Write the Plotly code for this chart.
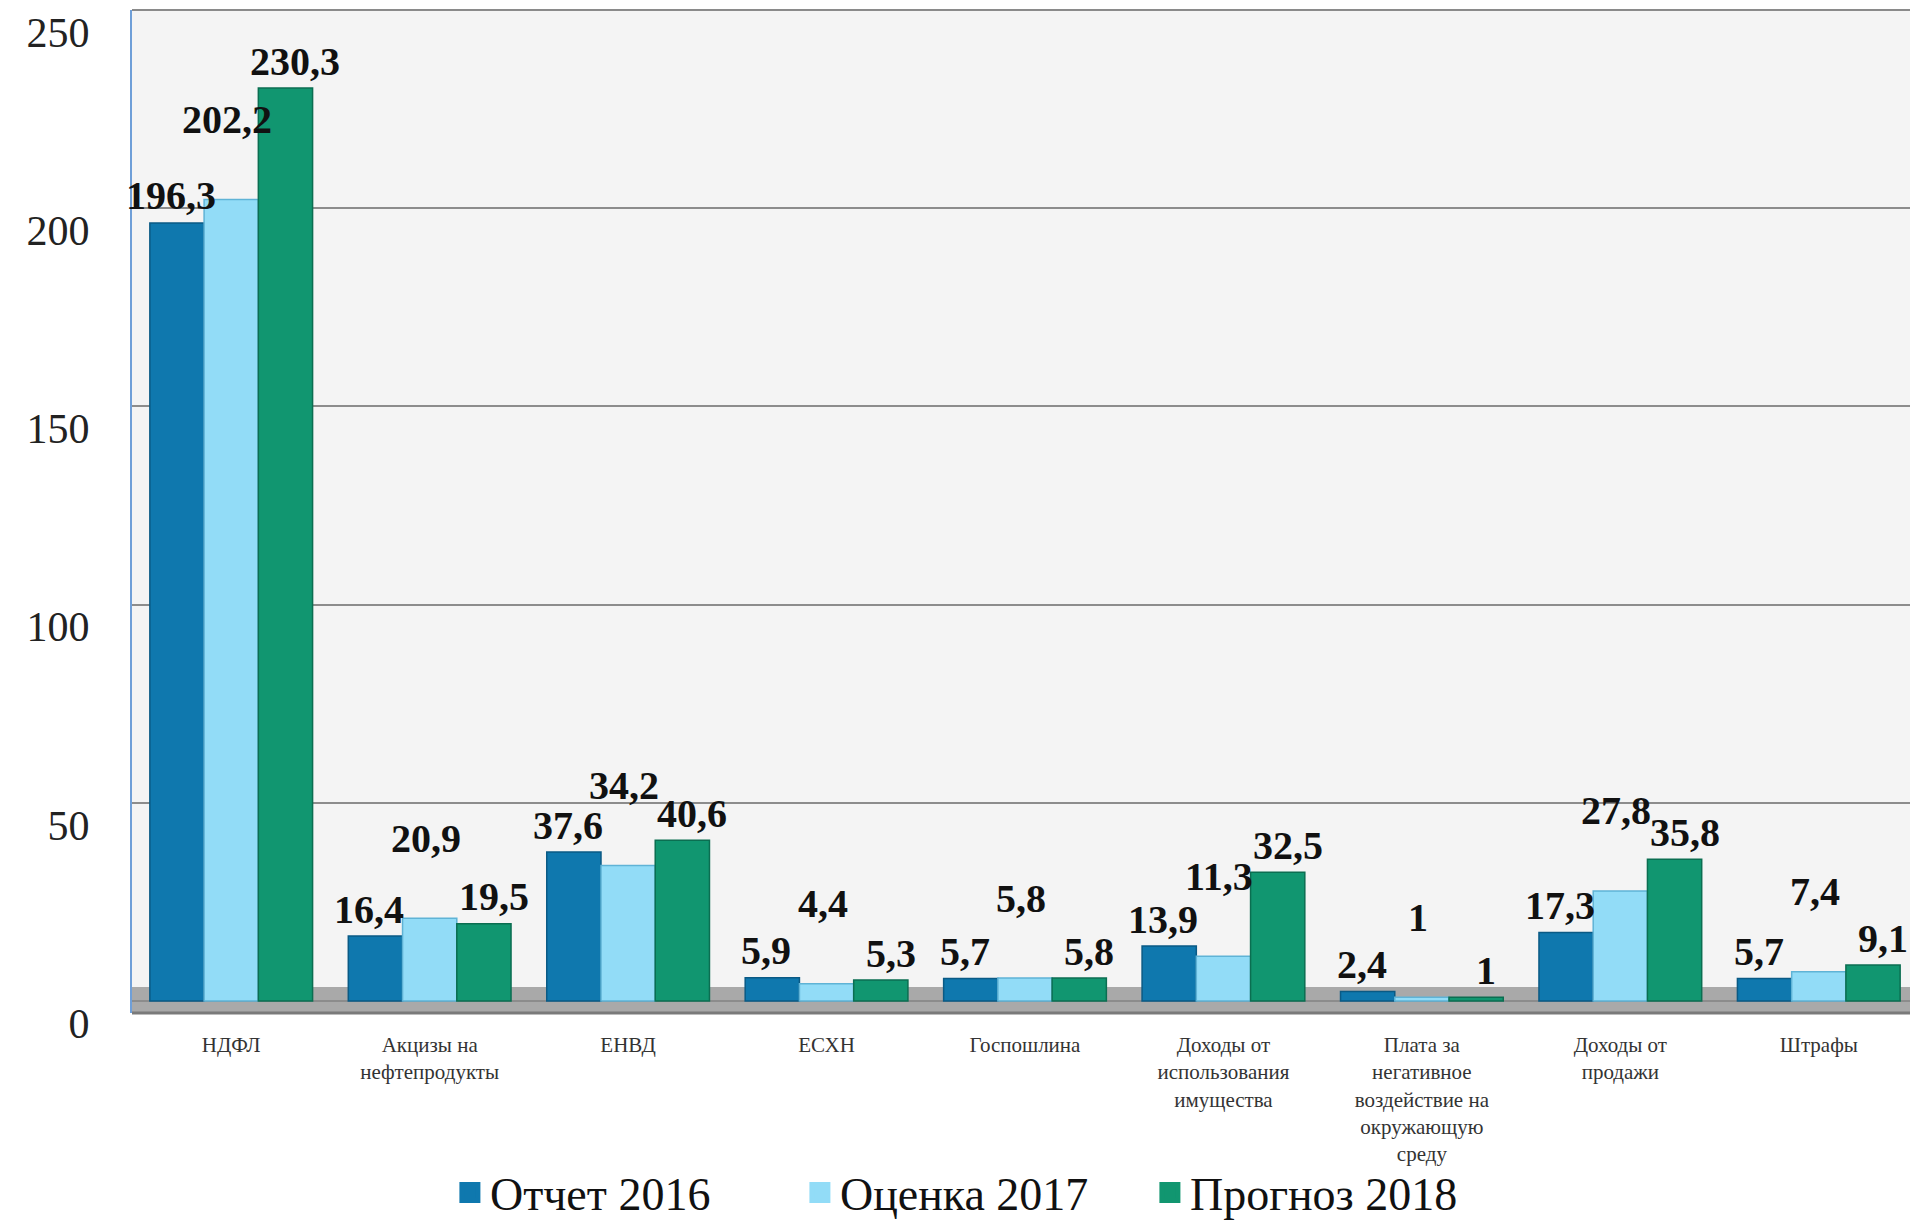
import plotly.graph_objects as go

categories = [
    "НДФЛ",
    "Акцизы на<br>нефтепродукты",
    "ЕНВД",
    "ЕСХН",
    "Госпошлина",
    "Доходы от<br>использования<br>имущества",
    "Плата за<br>негативное<br>воздействие на<br>окружающую<br>среду",
    "Доходы от<br>продажи",
    "Штрафы",
]
series_names = ["Отчет 2016", "Оценка 2017", "Прогноз 2018"]
otchet_2016 = [196.3, 16.4, 37.6, 5.9, 5.7, 13.9, 2.4, 17.3, 5.7]
ocenka_2017 = [202.2, 20.9, 34.2, 4.4, 5.8, 11.3, 1.0, 27.8, 7.4]
prognoz_2018 = [230.3, 19.5, 40.6, 5.3, 5.8, 32.5, 1.0, 35.8, 9.1]
y_ticks = [0, 50, 100, 150, 200, 250]

values = [otchet_2016, ocenka_2017, prognoz_2018]
colors = ["#0f78ae", "#92dcf7", "#119670"]
edge_colors = ["#0a5a85", "#5fb3d6", "#0b6e51"]
label_yshift = [27, 80, 27]
label_xshift = [-6, -4, 10]

BARGAP = 0.18
SERIF = "Liberation Serif"


def fmt(v):
    if float(v).is_integer():
        return str(int(v))
    return f"{v:.1f}".replace(".", ",")


fig = go.Figure()
for name, vals, c, ec in zip(series_names, values, colors, edge_colors):
    fig.add_trace(go.Bar(
        x=categories, y=vals, name=name, showlegend=False,
        marker=dict(color=c, line=dict(color=ec, width=1.5)),
    ))
# legend entries with larger square symbols
for name, c, ec in zip(series_names, colors, edge_colors):
    fig.add_trace(go.Scatter(
        x=[None], y=[None], mode="markers", name=name,
        marker=dict(symbol="square", size=16, color=c, line=dict(color=c, width=5)),
    ))

bar_w = (1 - BARGAP) / len(values)
annotations = []
for s, vals in enumerate(values):
    off = (s - (len(values) - 1) / 2) * bar_w
    for i, v in enumerate(vals):
        annotations.append(dict(
            x=i + off, y=v, xref="x", yref="y", text=fmt(v), showarrow=False,
            yanchor="middle", yshift=label_yshift[s], xshift=label_xshift[s],
            font=dict(family=SERIF, size=40, color="#111111", weight="bold"),
        ))

# the page body has an 8px margin, so the figure is placed 8px right/down
fig.update_layout(
    width=1910, height=1215,
    margin=dict(l=124, r=0, t=2, b=210, autoexpand=False),
    paper_bgcolor="white",
    plot_bgcolor="#f4f4f4",
    barmode="group", bargap=BARGAP, bargroupgap=0,
    font=dict(family=SERIF, color="#222222"),
    showlegend=True,
    legend=dict(
        orientation="h", x=0.178, xanchor="left", y=-0.179, yanchor="middle",
        font=dict(family=SERIF, size=46, color="#111111"),
        itemwidth=30, entrywidth=305, entrywidthmode="pixels",
        bgcolor="rgba(0,0,0,0)",
    ),
    annotations=annotations,
    shapes=[
        dict(type="rect", xref="x domain", yref="y domain", x0=0, x1=1, y0=0, y1=0.026,
             fillcolor="#a9a9a9", line=dict(width=0), layer="below"),
        dict(type="line", xref="x domain", yref="y domain", x0=0, x1=1, y0=1, y1=1,
             line=dict(color="#8a8a8a", width=2)),
        dict(type="line", xref="x domain", yref="y domain", x0=0, x1=1, y0=0, y1=0,
             line=dict(color="#7a7a7a", width=3)),
    ],
)
fig.update_xaxes(
    showgrid=False, showline=False, zeroline=False, ticks="",
    tickfont=dict(family=SERIF, size=21, color="#333333"),
    ticklabelstandoff=17,
    range=[-0.5, len(categories) - 0.5],
)
fig.update_yaxes(
    range=[-3, 250], tickvals=y_ticks, ticktext=[str(t) for t in y_ticks],
    showgrid=True, gridcolor="#8c8c8c", gridwidth=1.5,
    zeroline=False, showline=True, linecolor="#6f9fd8", linewidth=2,
    ticks="", tickfont=dict(family=SERIF, size=42, color="#222222"),
    ticklabelshift=22, ticklabelstandoff=32,
)

fig.write_html("out.html")
